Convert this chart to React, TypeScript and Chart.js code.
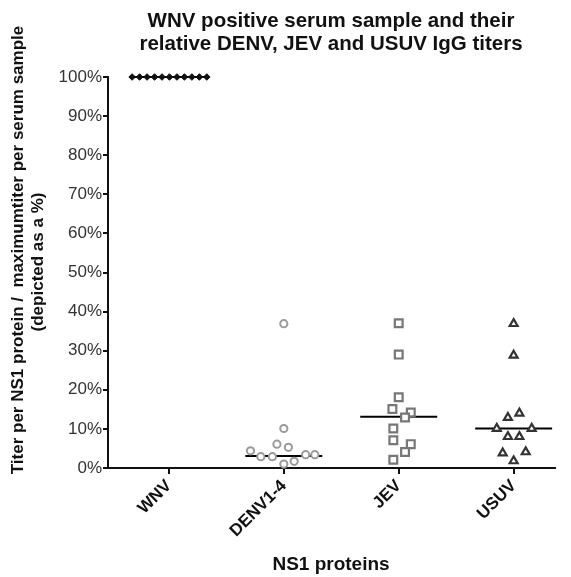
import React, { useEffect, useRef } from "react";
import { Chart, registerables } from "chart.js";

Chart.register(...registerables);

const categories = ["WNV", "DENV1-4", "JEV", "USUV"];

const wnvValues = [100, 100, 100, 100, 100, 100, 100, 100, 100, 100, 100];
const wnvJitter = [-0.32, -0.255, -0.19, -0.125, -0.06, 0.005, 0.07, 0.135, 0.2, 0.265, 0.33];

const denvValues = [36.9, 10.1, 6.1, 5.3, 4.4, 2.9, 2.9, 3.4, 3.4, 1.0, 1.7];
const denvJitter = [0, 0, -0.06, 0.04, -0.29, -0.2, -0.1, 0.19, 0.27, 0, 0.09];

const jevValues = [37.0, 29.0, 18.1, 15.1, 14.2, 12.9, 10.1, 7.1, 6.1, 4.1, 2.1];
const jevJitter = [0, 0, 0, -0.055, 0.105, 0.055, -0.047, -0.047, 0.105, 0.055, -0.047];

const usuvValues = [36.9, 28.8, 12.9, 14.0, 10.1, 10.1, 8.0, 8.0, 3.8, 4.1, 1.8];
const usuvJitter = [0, 0, -0.05, 0.05, -0.147, 0.157, -0.05, 0.05, -0.095, 0.105, 0];

const medians = [100, 3.1, 13.1, 10.1];
const medianHalfWidth = 0.335;

const yTickValues = [0, 10, 20, 30, 40, 50, 60, 70, 80, 90, 100];

const titleLines = ["WNV positive serum sample and their", "relative DENV, JEV and USUV IgG titers"];
const yTitleLines = ["Titer per NS1 protein /  maximumtiter per serum sample", "(depicted as a %)"];
const xTitle = "NS1 proteins";

const FONT = "'Liberation Sans', Arial, sans-serif";

function pts(cat: number, values: number[], jitter: number[]) {
  return values.map((v, i) => ({ x: cat + jitter[i], y: v }));
}

const textPlugin = {
  id: "textPlugin",
  afterDraw(chart: any) {
    const ctx = chart.ctx;
    ctx.save();
    ctx.fillStyle = "#111";
    ctx.textAlign = "center";
    ctx.textBaseline = "alphabetic";
    ctx.font = `bold 20.5px ${FONT}`;
    ctx.fillText(titleLines[0], 323, 19);
    ctx.fillText(titleLines[1], 323, 42);
    ctx.font = `bold 19px ${FONT}`;
    ctx.fillText(xTitle, 323, 562);
    ctx.font = `bold 17px ${FONT}`;
    ctx.textBaseline = "middle";
    ctx.save();
    ctx.translate(10, 242);
    ctx.rotate(-Math.PI / 2);
    ctx.fillText(yTitleLines[0], 0, 0);
    ctx.restore();
    ctx.save();
    ctx.translate(30, 254);
    ctx.rotate(-Math.PI / 2);
    ctx.fillText(yTitleLines[1], 0, 0);
    ctx.restore();
    ctx.restore();
  },
};

export default function App() {
  const ref = useRef<HTMLCanvasElement | null>(null);
  useEffect(() => {
    if (!ref.current) return;
    const pointSets = [
      {
        data: pts(0, wnvValues, wnvJitter),
        pointStyle: "rectRot",
        pointRadius: 3.3,
        backgroundColor: "#111",
        borderColor: "#111",
        borderWidth: 1,
      },
      {
        data: pts(1, denvValues, denvJitter),
        pointStyle: "circle",
        pointRadius: 3.6,
        backgroundColor: "#fff",
        borderColor: "#9a9a9a",
        borderWidth: 2,
      },
      {
        data: pts(2, jevValues, jevJitter),
        pointStyle: "rect",
        pointRadius: 5.5,
        backgroundColor: "#fff",
        borderColor: "#777",
        borderWidth: 2.2,
      },
      {
        data: pts(3, usuvValues, usuvJitter),
        pointStyle: "triangle",
        pointRadius: 4.6,
        backgroundColor: "#fff",
        borderColor: "#333",
        borderWidth: 2.2,
      },
    ].map((d) => ({ ...d, order: 1, clip: false as any, pointHoverRadius: d.pointRadius }));

    const medianSets = medians.map((m, i) => ({
      data: [
        { x: i - medianHalfWidth, y: m },
        { x: i + medianHalfWidth, y: m },
      ],
      showLine: true,
      borderColor: "#000",
      borderWidth: 2,
      pointRadius: 0,
      order: 2,
      clip: false as any,
    }));

    const chart = new Chart(ref.current, {
      type: "scatter",
      data: { datasets: [...medianSets, ...pointSets] as any },
      plugins: [textPlugin],
      options: {
        animation: false,
        responsive: true,
        maintainAspectRatio: false,
        layout: { padding: { top: 69, right: 8, left: 0, bottom: 0 } },
        plugins: { legend: { display: false }, tooltip: { enabled: false }, title: { display: false } },
        scales: {
          x: {
            type: "linear",
            min: -0.53,
            max: 3.36,
            afterBuildTicks: (scale: any) => {
              scale.ticks = categories.map((_, i) => ({ value: i }));
            },
            afterFit: (scale: any) => {
              scale.height = 109;
            },
            ticks: {
              autoSkip: false,
              maxRotation: 45,
              minRotation: 45,
              padding: 2,
              color: "#111",
              font: { family: FONT, size: 17, weight: "bold" },
              callback: (v: any) => categories[Math.round(Number(v))] ?? "",
            },
            grid: { drawOnChartArea: false, drawTicks: true, tickLength: 6, color: "#111", lineWidth: 2 },
            border: { display: true, color: "#111", width: 2 },
          },
          y: {
            type: "linear",
            min: 0,
            max: 100,
            afterBuildTicks: (scale: any) => {
              scale.ticks = yTickValues.map((v) => ({ value: v }));
            },
            afterFit: (scale: any) => {
              scale.width = 100;
            },
            ticks: {
              padding: 1,
              color: "#333",
              font: { family: FONT, size: 17 },
              callback: (v: any) => `${v}%`,
            },
            grid: { drawOnChartArea: false, drawTicks: true, tickLength: 5, color: "#111", lineWidth: 2 },
            border: { display: true, color: "#111", width: 2 },
          },
        },
      },
    });
    return () => chart.destroy();
  }, []);

  return (
    <div style={{ width: 555, height: 569, position: "relative" }}>
      <canvas ref={ref} />
    </div>
  );
}
